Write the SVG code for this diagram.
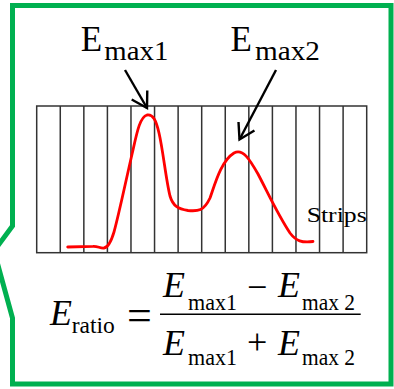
<svg xmlns="http://www.w3.org/2000/svg" width="394" height="389" viewBox="0 0 394 389">
<style>
.frame{fill:#fff;stroke:#00B050;stroke-width:5;stroke-linejoin:miter}
.strip{fill:none;stroke:#333;stroke-width:1.5}
.curve{fill:none;stroke:#FF0000;stroke-width:2.8;stroke-linecap:round;stroke-linejoin:round}
.arrow{stroke:#000;stroke-width:2.4;fill:none}
text{font-family:'Liberation Serif','DejaVu Serif',serif;fill:#000}
.i{font-style:italic}
</style>
<defs>
<marker id="open" markerUnits="userSpaceOnUse" markerWidth="40" markerHeight="40" viewBox="-20 -20 40 40" refX="0" refY="0" orient="auto" overflow="visible">
<path d="M -15 -9 L 0 0 L -15 9" fill="none" stroke="#000" stroke-width="2.4"/>
</marker>
</defs>
<rect width="394" height="389" fill="#fff"/>
<g id="frame">
<path class="frame" d="M 12.5 5.5 L 391 5.5 L 391 384 L 12.5 384 L 12.5 318 L -6 251 L 12.5 226 Z"/>
</g>
<g id="strips">
<rect class="strip" x="36.7" y="106" width="330" height="146.7"/>
<path class="strip" d="M60.27 106V252.7M83.84 106V252.7M107.41 106V252.7M130.98 106V252.7M154.55 106V252.7M178.12 106V252.7M201.69 106V252.7M225.26 106V252.7M248.83 106V252.7M272.4 106V252.7M295.97 106V252.7M319.54 106V252.7M343.11 106V252.7"/>
<text x="306.7" y="221.7" font-size="21" textLength="60" lengthAdjust="spacingAndGlyphs">Strips</text>
</g>
<g id="curve">
<path class="curve" d="M 67.7 247 L 93 246.3 C 98 246 100 248.5 104 248 C 108 247.5 111 242 114 232 C 119 214 126 180 133 150 C 137 132 140 117 147 115 C 153 114 156 120 159 133 C 163 150 166 180 170 196 C 173 206 178 209 188 210.5 C 198 211.5 204 211 210 198 C 215 184 221 161 234 153 C 243 148 250 160 258 174 C 268 193 278 215 290 233 C 296 241 302 243 313 241.5"/>
</g>
<g id="label-emax1">
<text x="80.7" y="51" font-size="35">E</text>
<text x="104.3" y="60" font-size="27" textLength="64" lengthAdjust="spacingAndGlyphs">max1</text>
</g>
<g id="label-emax2">
<text x="230.5" y="51" font-size="35">E</text>
<text x="255" y="60" font-size="27" textLength="65" lengthAdjust="spacingAndGlyphs">max2</text>
</g>
<g id="connectors">
<line class="arrow" x1="125" y1="70" x2="147" y2="108" marker-end="url(#open)"/>
<line class="arrow" x1="276" y1="70" x2="239.5" y2="139.5" marker-end="url(#open)"/>
</g>
<g id="formula">
<text class="i" x="50" y="325" font-size="36">E</text>
<text x="71.7" y="333.3" font-size="24" textLength="43" lengthAdjust="spacingAndGlyphs">ratio</text>
<text x="127" y="330" font-size="44">=</text>
<line x1="160" y1="314.3" x2="360.7" y2="314.3" stroke="#000" stroke-width="1.5"/>
<text class="i" x="163" y="297" font-size="36">E</text>
<text x="188" y="309.5" font-size="24" textLength="49" lengthAdjust="spacingAndGlyphs">max1</text>
<text x="247" y="299" font-size="36">−</text>
<text class="i" x="278" y="297" font-size="36">E</text>
<text x="302" y="309.5" font-size="24" textLength="53" lengthAdjust="spacingAndGlyphs" xml:space="preserve">max 2</text>
<text class="i" x="163" y="355" font-size="36">E</text>
<text x="188" y="365" font-size="24" textLength="49" lengthAdjust="spacingAndGlyphs">max1</text>
<text x="247" y="354" font-size="36">+</text>
<text class="i" x="278" y="355" font-size="36">E</text>
<text x="302" y="365" font-size="24" textLength="53" lengthAdjust="spacingAndGlyphs" xml:space="preserve">max 2</text>
</g>
</svg>
